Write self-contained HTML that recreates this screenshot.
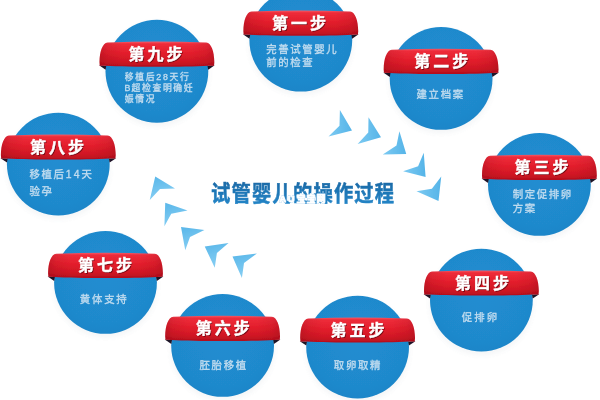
<!DOCTYPE html>
<html lang="zh-CN"><head><meta charset="utf-8"><title>试管婴儿的操作过程</title>
<style>
html,body{margin:0;padding:0;background:#fff}
body{width:600px;height:400px;overflow:hidden;position:relative;font-family:"Liberation Sans","Noto Sans CJK SC",sans-serif}
svg{position:absolute;left:0;top:0;display:block}
svg text{font-family:"Liberation Sans","Noto Sans CJK SC",sans-serif}
.t{position:absolute;color:transparent;white-space:nowrap;line-height:1.2;font-family:"Liberation Sans","Noto Sans CJK SC",sans-serif}
</style></head><body>
<svg width="600" height="400" viewBox="0 0 600 400">
<defs>
<radialGradient id="cg" cx="50%" cy="42%" r="60%">
<stop offset="0" stop-color="#218dd1"/><stop offset=".8" stop-color="#1f89cc"/><stop offset="1" stop-color="#1c85c8"/>
</radialGradient>
<linearGradient id="rg" x1="0" y1="0" x2="0" y2="1">
<stop offset="0" stop-color="#f65a68"/><stop offset=".09" stop-color="#ee2c3a"/><stop offset=".45" stop-color="#e31e2c"/><stop offset=".8" stop-color="#cf1724"/><stop offset=".92" stop-color="#c01220"/><stop offset="1" stop-color="#b20f1c"/>
</linearGradient>
<linearGradient id="rh" x1="0" y1="0" x2="1" y2="0">
<stop offset="0" stop-color="#6a0010" stop-opacity=".24"/><stop offset=".07" stop-color="#6a0010" stop-opacity=".1"/><stop offset=".2" stop-color="#6a0010" stop-opacity="0"/><stop offset=".8" stop-color="#6a0010" stop-opacity="0"/><stop offset=".93" stop-color="#6a0010" stop-opacity=".1"/><stop offset="1" stop-color="#6a0010" stop-opacity=".24"/>
</linearGradient>
<linearGradient id="ag" x1="0" y1="0" x2="1" y2="0">
<stop offset="0" stop-color="#7ccaf2"/><stop offset="1" stop-color="#55b4e8"/>
</linearGradient>
<linearGradient id="ah" x1="0" y1="0" x2=".3" y2="1">
<stop offset="0" stop-color="#58b6e9"/><stop offset="1" stop-color="#86cef3"/>
</linearGradient>
<linearGradient id="tg" x1="0" y1="0" x2="0" y2="1">
<stop offset="0" stop-color="#1a69a6"/><stop offset="1" stop-color="#2486c8"/>
</linearGradient>
<filter id="sh" x="-20%" y="-20%" width="140%" height="140%"><feGaussianBlur stdDeviation="2.2"/></filter>
<filter id="gb" filterUnits="userSpaceOnUse" x="-20" y="-20" width="640" height="440"><feGaussianBlur stdDeviation="0.5"/></filter>
<filter id="tb" x="-5%" y="-5%" width="110%" height="110%"><feGaussianBlur stdDeviation="0.35"/></filter>
</defs>
<rect width="600" height="400" fill="#fff"/>
<g filter="url(#gb)"><g transform="translate(300.8 40.2)"><ellipse cx="0" cy="3" rx="52.4" ry="52.4" fill="#8a9aa8" opacity=".08" filter="url(#sh)"/><circle r="51.4" fill="url(#cg)"/><path d="M-57.8,-5.9 L-50.6,-5.5 L-51.3,-1.5 Z" fill="#1f1226"/><path d="M57.8,-5.9 L50.6,-5.5 L51.3,-1.5 Z" fill="#1f1226"/><g transform="scale(0.988 1)"><path d="M-50,-28.7 Q0,-30.6 50,-28.7 C55,-28.0 58,-20 58.1,-9 L57.8,-5.6 L52,-5.5 C40,-4.6 20,-4.5 0,-4.5 C-20,-4.5 -40,-4.6 -52,-5.5 L-57.8,-5.6 L-58.1,-9 C-58,-20 -55,-28.0 -50,-28.7 Z" fill="url(#rg)"/><path d="M-50,-28.7 Q0,-30.6 50,-28.7 C55,-28.0 58,-20 58.1,-9 L57.8,-5.6 L52,-5.5 C40,-4.6 20,-4.5 0,-4.5 C-20,-4.5 -40,-4.6 -52,-5.5 L-57.8,-5.6 L-58.1,-9 C-58,-20 -55,-28.0 -50,-28.7 Z" fill="url(#rh)"/></g><g fill="#6d0812" transform="translate(1 1)" opacity=".9"><text x="-28.7 -9.7 9.3" y="-11.4" font-size="16" font-weight="bold">第一步</text></g><g fill="#fff" stroke="#fff" stroke-width="0.45"><text x="-28.7 -9.7 9.3" y="-11.4" font-size="16" font-weight="bold">第一步</text></g></g><g transform="translate(441.1 78.4)"><ellipse cx="0" cy="3" rx="52.4" ry="52.4" fill="#8a9aa8" opacity=".08" filter="url(#sh)"/><circle r="51.4" fill="url(#cg)"/><path d="M-57.8,-5.9 L-50.6,-5.5 L-51.3,-1.5 Z" fill="#1f1226"/><path d="M57.8,-5.9 L50.6,-5.5 L51.3,-1.5 Z" fill="#1f1226"/><g transform="scale(0.988 1)"><path d="M-50,-28.7 Q0,-30.6 50,-28.7 C55,-28.0 58,-20 58.1,-9 L57.8,-5.6 L52,-5.5 C40,-4.6 20,-4.5 0,-4.5 C-20,-4.5 -40,-4.6 -52,-5.5 L-57.8,-5.6 L-58.1,-9 C-58,-20 -55,-28.0 -50,-28.7 Z" fill="url(#rg)"/><path d="M-50,-28.7 Q0,-30.6 50,-28.7 C55,-28.0 58,-20 58.1,-9 L57.8,-5.6 L52,-5.5 C40,-4.6 20,-4.5 0,-4.5 C-20,-4.5 -40,-4.6 -52,-5.5 L-57.8,-5.6 L-58.1,-9 C-58,-20 -55,-28.0 -50,-28.7 Z" fill="url(#rh)"/></g><g fill="#6d0812" transform="translate(1 1)" opacity=".9"><text x="-26.9 -7.9 11.1" y="-11.4" font-size="16" font-weight="bold">第二步</text></g><g fill="#fff" stroke="#fff" stroke-width="0.45"><text x="-26.9 -7.9 11.1" y="-11.4" font-size="16" font-weight="bold">第二步</text></g></g><g transform="translate(539.4 184.4)"><ellipse cx="0" cy="3" rx="52.4" ry="52.4" fill="#8a9aa8" opacity=".08" filter="url(#sh)"/><circle r="51.4" fill="url(#cg)"/><path d="M-57.8,-5.9 L-50.6,-5.5 L-51.3,-1.5 Z" fill="#1f1226"/><path d="M57.8,-5.9 L50.6,-5.5 L51.3,-1.5 Z" fill="#1f1226"/><g transform="scale(0.988 1)"><path d="M-50,-28.7 Q0,-30.6 50,-28.7 C55,-28.0 58,-20 58.1,-9 L57.8,-5.6 L52,-5.5 C40,-4.6 20,-4.5 0,-4.5 C-20,-4.5 -40,-4.6 -52,-5.5 L-57.8,-5.6 L-58.1,-9 C-58,-20 -55,-28.0 -50,-28.7 Z" fill="url(#rg)"/><path d="M-50,-28.7 Q0,-30.6 50,-28.7 C55,-28.0 58,-20 58.1,-9 L57.8,-5.6 L52,-5.5 C40,-4.6 20,-4.5 0,-4.5 C-20,-4.5 -40,-4.6 -52,-5.5 L-57.8,-5.6 L-58.1,-9 C-58,-20 -55,-28.0 -50,-28.7 Z" fill="url(#rh)"/></g><g fill="#6d0812" transform="translate(1 1)" opacity=".9"><text x="-24.8 -5.8 13.2" y="-11.4" font-size="16" font-weight="bold">第三步</text></g><g fill="#fff" stroke="#fff" stroke-width="0.45"><text x="-24.8 -5.8 13.2" y="-11.4" font-size="16" font-weight="bold">第三步</text></g></g><g transform="translate(481.4 300.1)"><ellipse cx="0" cy="3" rx="52.4" ry="52.4" fill="#8a9aa8" opacity=".08" filter="url(#sh)"/><circle r="51.4" fill="url(#cg)"/><path d="M-57.8,-5.9 L-50.6,-5.5 L-51.3,-1.5 Z" fill="#1f1226"/><path d="M57.8,-5.9 L50.6,-5.5 L51.3,-1.5 Z" fill="#1f1226"/><g transform="scale(0.988 1)"><path d="M-50,-28.7 Q0,-30.6 50,-28.7 C55,-28.0 58,-20 58.1,-9 L57.8,-5.6 L52,-5.5 C40,-4.6 20,-4.5 0,-4.5 C-20,-4.5 -40,-4.6 -52,-5.5 L-57.8,-5.6 L-58.1,-9 C-58,-20 -55,-28.0 -50,-28.7 Z" fill="url(#rg)"/><path d="M-50,-28.7 Q0,-30.6 50,-28.7 C55,-28.0 58,-20 58.1,-9 L57.8,-5.6 L52,-5.5 C40,-4.6 20,-4.5 0,-4.5 C-20,-4.5 -40,-4.6 -52,-5.5 L-57.8,-5.6 L-58.1,-9 C-58,-20 -55,-28.0 -50,-28.7 Z" fill="url(#rh)"/></g><g fill="#6d0812" transform="translate(1 1)" opacity=".9"><text x="-26.4 -7.4 11.6" y="-11.4" font-size="16" font-weight="bold">第四步</text></g><g fill="#fff" stroke="#fff" stroke-width="0.45"><text x="-26.4 -7.4 11.6" y="-11.4" font-size="16" font-weight="bold">第四步</text></g></g><g transform="translate(357.6 347.1)"><ellipse cx="0" cy="3" rx="52.4" ry="52.4" fill="#8a9aa8" opacity=".08" filter="url(#sh)"/><circle r="51.4" fill="url(#cg)"/><path d="M-57.8,-5.9 L-50.6,-5.5 L-51.3,-1.5 Z" fill="#1f1226"/><path d="M57.8,-5.9 L50.6,-5.5 L51.3,-1.5 Z" fill="#1f1226"/><g transform="scale(0.988 1)"><path d="M-50,-28.7 Q0,-30.6 50,-28.7 C55,-28.0 58,-20 58.1,-9 L57.8,-5.6 L52,-5.5 C40,-4.6 20,-4.5 0,-4.5 C-20,-4.5 -40,-4.6 -52,-5.5 L-57.8,-5.6 L-58.1,-9 C-58,-20 -55,-28.0 -50,-28.7 Z" fill="url(#rg)"/><path d="M-50,-28.7 Q0,-30.6 50,-28.7 C55,-28.0 58,-20 58.1,-9 L57.8,-5.6 L52,-5.5 C40,-4.6 20,-4.5 0,-4.5 C-20,-4.5 -40,-4.6 -52,-5.5 L-57.8,-5.6 L-58.1,-9 C-58,-20 -55,-28.0 -50,-28.7 Z" fill="url(#rh)"/></g><g fill="#6d0812" transform="translate(1 1)" opacity=".9"><text x="-27.1 -8.1 10.9" y="-11.4" font-size="16" font-weight="bold">第五步</text></g><g fill="#fff" stroke="#fff" stroke-width="0.45"><text x="-27.1 -8.1 10.9" y="-11.4" font-size="16" font-weight="bold">第五步</text></g></g><g transform="translate(222.6 345.4)"><ellipse cx="0" cy="3" rx="52.4" ry="52.4" fill="#8a9aa8" opacity=".08" filter="url(#sh)"/><circle r="51.4" fill="url(#cg)"/><path d="M-57.8,-5.9 L-50.6,-5.5 L-51.3,-1.5 Z" fill="#1f1226"/><path d="M57.8,-5.9 L50.6,-5.5 L51.3,-1.5 Z" fill="#1f1226"/><g transform="scale(0.988 1)"><path d="M-50,-28.7 Q0,-30.6 50,-28.7 C55,-28.0 58,-20 58.1,-9 L57.8,-5.6 L52,-5.5 C40,-4.6 20,-4.5 0,-4.5 C-20,-4.5 -40,-4.6 -52,-5.5 L-57.8,-5.6 L-58.1,-9 C-58,-20 -55,-28.0 -50,-28.7 Z" fill="url(#rg)"/><path d="M-50,-28.7 Q0,-30.6 50,-28.7 C55,-28.0 58,-20 58.1,-9 L57.8,-5.6 L52,-5.5 C40,-4.6 20,-4.5 0,-4.5 C-20,-4.5 -40,-4.6 -52,-5.5 L-57.8,-5.6 L-58.1,-9 C-58,-20 -55,-28.0 -50,-28.7 Z" fill="url(#rh)"/></g><g fill="#6d0812" transform="translate(1 1)" opacity=".9"><text x="-26.8 -7.8 11.2" y="-11.4" font-size="16" font-weight="bold">第六步</text></g><g fill="#fff" stroke="#fff" stroke-width="0.45"><text x="-26.8 -7.8 11.2" y="-11.4" font-size="16" font-weight="bold">第六步</text></g></g><g transform="translate(105.5 282.4)"><ellipse cx="0" cy="3" rx="52.4" ry="52.4" fill="#8a9aa8" opacity=".08" filter="url(#sh)"/><circle r="51.4" fill="url(#cg)"/><path d="M-57.8,-5.9 L-50.6,-5.5 L-51.3,-1.5 Z" fill="#1f1226"/><path d="M57.8,-5.9 L50.6,-5.5 L51.3,-1.5 Z" fill="#1f1226"/><g transform="scale(0.988 1)"><path d="M-50,-28.7 Q0,-30.6 50,-28.7 C55,-28.0 58,-20 58.1,-9 L57.8,-5.6 L52,-5.5 C40,-4.6 20,-4.5 0,-4.5 C-20,-4.5 -40,-4.6 -52,-5.5 L-57.8,-5.6 L-58.1,-9 C-58,-20 -55,-28.0 -50,-28.7 Z" fill="url(#rg)"/><path d="M-50,-28.7 Q0,-30.6 50,-28.7 C55,-28.0 58,-20 58.1,-9 L57.8,-5.6 L52,-5.5 C40,-4.6 20,-4.5 0,-4.5 C-20,-4.5 -40,-4.6 -52,-5.5 L-57.8,-5.6 L-58.1,-9 C-58,-20 -55,-28.0 -50,-28.7 Z" fill="url(#rh)"/></g><g fill="#6d0812" transform="translate(1 1)" opacity=".9"><text x="-27.5 -8.5 10.5" y="-11.4" font-size="16" font-weight="bold">第七步</text></g><g fill="#fff" stroke="#fff" stroke-width="0.45"><text x="-27.5 -8.5 10.5" y="-11.4" font-size="16" font-weight="bold">第七步</text></g></g><g transform="translate(58.3 164.1)"><ellipse cx="0" cy="3" rx="52.4" ry="52.4" fill="#8a9aa8" opacity=".08" filter="url(#sh)"/><circle r="51.4" fill="url(#cg)"/><path d="M-57.8,-5.9 L-50.6,-5.5 L-51.3,-1.5 Z" fill="#1f1226"/><path d="M57.8,-5.9 L50.6,-5.5 L51.3,-1.5 Z" fill="#1f1226"/><g transform="scale(0.988 1)"><path d="M-50,-28.7 Q0,-30.6 50,-28.7 C55,-28.0 58,-20 58.1,-9 L57.8,-5.6 L52,-5.5 C40,-4.6 20,-4.5 0,-4.5 C-20,-4.5 -40,-4.6 -52,-5.5 L-57.8,-5.6 L-58.1,-9 C-58,-20 -55,-28.0 -50,-28.7 Z" fill="url(#rg)"/><path d="M-50,-28.7 Q0,-30.6 50,-28.7 C55,-28.0 58,-20 58.1,-9 L57.8,-5.6 L52,-5.5 C40,-4.6 20,-4.5 0,-4.5 C-20,-4.5 -40,-4.6 -52,-5.5 L-57.8,-5.6 L-58.1,-9 C-58,-20 -55,-28.0 -50,-28.7 Z" fill="url(#rh)"/></g><g fill="#6d0812" transform="translate(1 1)" opacity=".9"><text x="-28.3 -9.3 9.7" y="-11.4" font-size="16" font-weight="bold">第八步</text></g><g fill="#fff" stroke="#fff" stroke-width="0.45"><text x="-28.3 -9.3 9.7" y="-11.4" font-size="16" font-weight="bold">第八步</text></g></g><g transform="translate(156.9 71.25)"><ellipse cx="0" cy="3" rx="52.4" ry="52.4" fill="#8a9aa8" opacity=".08" filter="url(#sh)"/><circle r="51.4" fill="url(#cg)"/><path d="M-57.8,-5.9 L-50.6,-5.5 L-51.3,-1.5 Z" fill="#1f1226"/><path d="M57.8,-5.9 L50.6,-5.5 L51.3,-1.5 Z" fill="#1f1226"/><g transform="scale(0.988 1)"><path d="M-50,-28.7 Q0,-30.6 50,-28.7 C55,-28.0 58,-20 58.1,-9 L57.8,-5.6 L52,-5.5 C40,-4.6 20,-4.5 0,-4.5 C-20,-4.5 -40,-4.6 -52,-5.5 L-57.8,-5.6 L-58.1,-9 C-58,-20 -55,-28.0 -50,-28.7 Z" fill="url(#rg)"/><path d="M-50,-28.7 Q0,-30.6 50,-28.7 C55,-28.0 58,-20 58.1,-9 L57.8,-5.6 L52,-5.5 C40,-4.6 20,-4.5 0,-4.5 C-20,-4.5 -40,-4.6 -52,-5.5 L-57.8,-5.6 L-58.1,-9 C-58,-20 -55,-28.0 -50,-28.7 Z" fill="url(#rh)"/></g><g fill="#6d0812" transform="translate(1 1)" opacity=".9"><text x="-28.3 -9.3 9.7" y="-11.4" font-size="16" font-weight="bold">第九步</text></g><g fill="#fff" stroke="#fff" stroke-width="0.45"><text x="-28.3 -9.3 9.7" y="-11.4" font-size="16" font-weight="bold">第九步</text></g></g><g fill="#d9e8f4" stroke="#d9e8f4" stroke-width="0.29" opacity=".88" filter="url(#tb)" font-size="10.4"><text y="52.59" x="266.28 278.28 290.28 302.28 314.28 326.28">完善试管婴儿</text><text y="65.99" x="266.28 278.28 290.28 302.28">前的检查</text><text y="98.34" x="416.38 428.53 440.68 452.83">建立档案</text><text y="197.89" x="512.78 524.78 536.78 548.78 560.78">制定促排卵</text><text y="212.49" x="512.78 524.78">方案</text><text y="320.59" x="461.78 474.28 486.78">促排卵</text><text y="368.79" x="333.78 345.88 357.98 370.08">取卵取精</text><text y="368.79" x="199.38 211.53 223.68 235.83">胚胎移植</text><text y="303.34" x="79.83 91.98 104.13 116.28">黄体支持</text><text y="177.59" x="29.58 41.58 53.58 65.82 73.82 81.58">移植后14天</text><text y="195.19" x="29.58 41.58">验孕</text><text y="79.52" font-size="8.8" x="124.85 135.30 145.75 156.21 162.91 169.60 180.05">移植后28天行</text><text y="90.67" font-size="8.8" x="124.44 131.55 142.00 152.45 162.90 173.35 183.80">B超检查明确妊</text><text y="101.82" font-size="8.8" x="124.85 135.30 145.75">娠情况</text></g><polygon points="339.9,110.1 352,130.5 328.5,136.4 339.5,125.75" fill="url(#ag)"/><polygon points="368.5,117.25 381,137.25 357.6,143.9 368.25,132.6" fill="url(#ag)"/><polygon points="399.4,131.25 406.25,154 382.75,154.4 396.5,145.6" fill="url(#ag)"/><polygon points="423.75,152.75 425.6,176.9 403.1,171.25 418.1,166.25" fill="url(#ag)"/><polygon points="441.25,176.5 438.5,201 416.5,191.25 431.9,188.75" fill="url(#ag)"/><polygon points="155.25,176.5 175,188.5 160,189 149.75,200" fill="url(#ah)"/><polygon points="165.25,202.75 187.5,210.6 171.25,213.75 164.4,226.25" fill="url(#ah)"/><polygon points="181,226.9 204.4,230 190,236.9 185.25,250.25" fill="url(#ah)"/><polygon points="204.75,246.5 228.5,243.1 216.9,253.1 214.75,267.75" fill="url(#ah)"/><polygon points="232.5,256.5 256.9,253.5 244,263.1 241.9,278.1" fill="url(#ah)"/><g fill="url(#tg)" stroke="url(#tg)" stroke-width="0.48"><text transform="translate(0 201.1) scale(1 1.119)" y="0" font-size="19.3" font-weight="bold" x="211.07 231.54 252.01 272.48 292.95 313.42 333.89 354.36 374.83">试管婴儿的操作过程</text></g><g fill="#8fc3ea" stroke="#8fc3ea" stroke-width="1.5" stroke-linejoin="round" opacity=".7"><text y="201.8" font-size="9" font-weight="bold" x="279.43 287.96 296.5 306.5 316.5">AU宝宝网</text></g><g fill="#fff" stroke="#fff" stroke-width="0.75" stroke-linejoin="round"><text y="201.8" font-size="9" font-weight="bold" x="279.43 287.96 296.5 306.5 316.5">AU宝宝网</text></g></g>
</svg>
<div class="t" style="left:274px;top:14px;font-size:16px;font-weight:bold;letter-spacing:2px">第一步</div><div class="t" style="left:414px;top:52px;font-size:16px;font-weight:bold;letter-spacing:2px">第二步</div><div class="t" style="left:512px;top:158px;font-size:16px;font-weight:bold;letter-spacing:2px">第三步</div><div class="t" style="left:454px;top:274px;font-size:16px;font-weight:bold;letter-spacing:2px">第四步</div><div class="t" style="left:331px;top:321px;font-size:16px;font-weight:bold;letter-spacing:2px">第五步</div><div class="t" style="left:196px;top:319px;font-size:16px;font-weight:bold;letter-spacing:2px">第六步</div><div class="t" style="left:78px;top:256px;font-size:16px;font-weight:bold;letter-spacing:2px">第七步</div><div class="t" style="left:31px;top:138px;font-size:16px;font-weight:bold;letter-spacing:2px">第八步</div><div class="t" style="left:130px;top:45px;font-size:16px;font-weight:bold;letter-spacing:2px">第九步</div><div class="t" style="left:267px;top:42px;font-size:10px;line-height:13px;letter-spacing:1px">完善试管婴儿<br>前的检查</div><div class="t" style="left:417px;top:88px;font-size:10px;line-height:13px;letter-spacing:1px">建立档案</div><div class="t" style="left:513px;top:187px;font-size:10px;line-height:15px;letter-spacing:1px">制定促排卵<br>方案</div><div class="t" style="left:462px;top:310px;font-size:10px;line-height:13px;letter-spacing:1px">促排卵</div><div class="t" style="left:334px;top:358px;font-size:10px;line-height:13px;letter-spacing:1px">取卵取精</div><div class="t" style="left:200px;top:358px;font-size:10px;line-height:13px;letter-spacing:1px">胚胎移植</div><div class="t" style="left:80px;top:293px;font-size:10px;line-height:13px;letter-spacing:1px">黄体支持</div><div class="t" style="left:30px;top:167px;font-size:10px;line-height:18px;letter-spacing:1px">移植后14天<br>验孕</div><div class="t" style="left:125px;top:70px;font-size:9px;line-height:11px;letter-spacing:1px">移植后28天行<br>B超检查明确妊<br>娠情况</div><h1 class="t" style="left:212px;top:181px;font-size:20px;font-weight:bold;margin:0">试管婴儿的操作过程</h1>
</body></html>
